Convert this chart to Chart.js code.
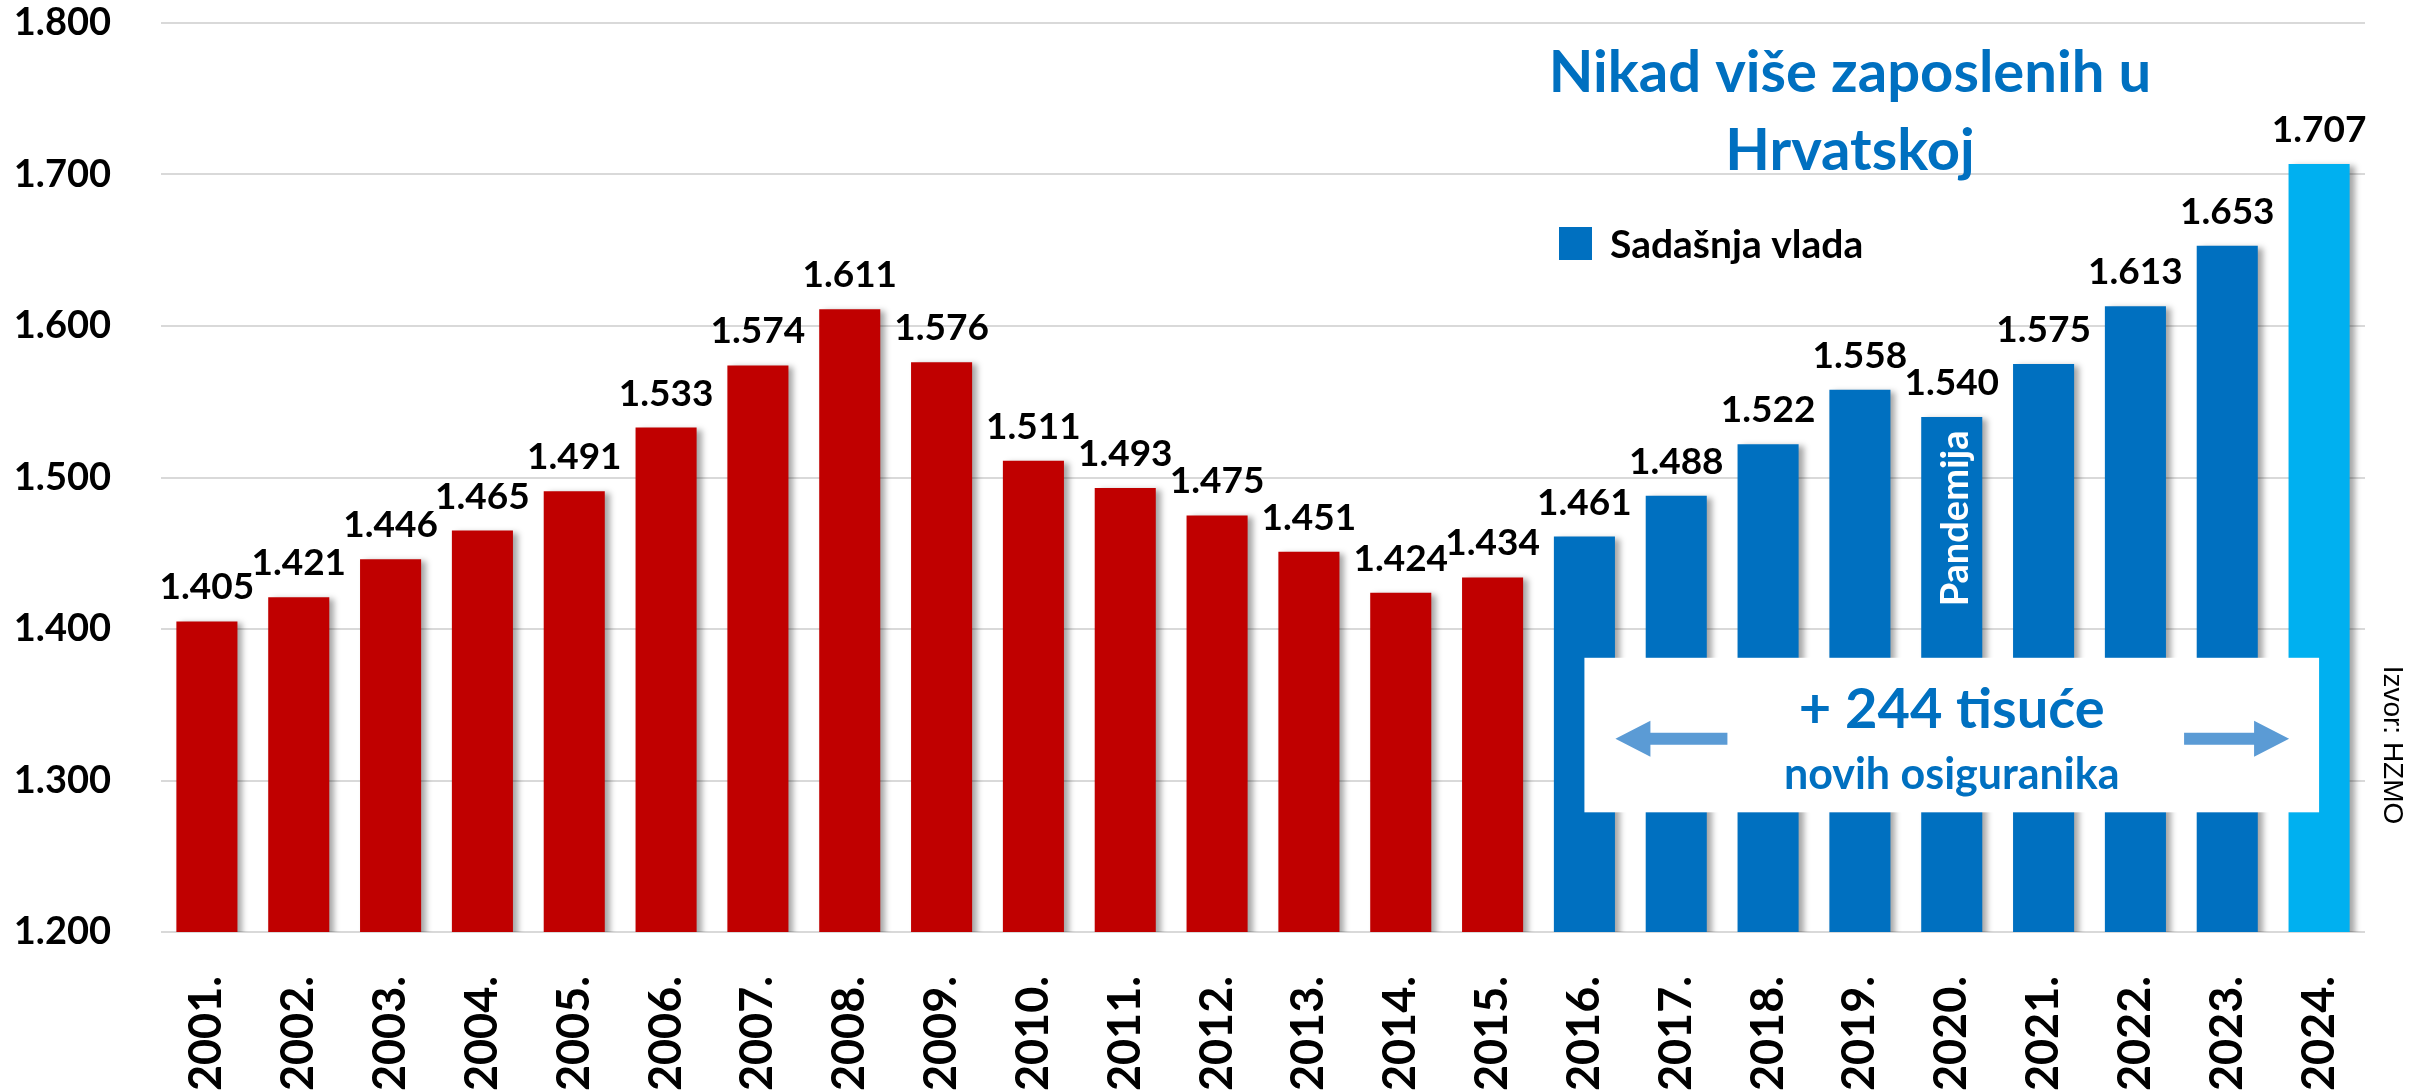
<!DOCTYPE html>
<html>
<head>
<meta charset="utf-8">
<script src="https://cdn.jsdelivr.net/npm/chart.js@4"></script>
<style>
  html, body { margin: 0; padding: 0; background: #fff; }
  #wrap { width: 2425px; height: 1090px; position: relative; }
</style>
</head>
<body>
<div id="wrap"><canvas id="chart"></canvas></div>
<script>
// Broj osiguranika (u tisućama), izvor HZMO
const years = ['2001.', '2002.', '2003.', '2004.', '2005.', '2006.', '2007.', '2008.',
  '2009.', '2010.', '2011.', '2012.', '2013.', '2014.', '2015.', '2016.', '2017.',
  '2018.', '2019.', '2020.', '2021.', '2022.', '2023.', '2024.'];
const insured = [1405, 1421, 1446, 1465, 1491, 1533, 1574, 1611, 1576, 1511, 1493,
  1475, 1451, 1424, 1434, 1461, 1488, 1522, 1558, 1540, 1575, 1613, 1653, 1707];
const yTicks = [1200, 1300, 1400, 1500, 1600, 1700, 1800];
const firstCurrentYear = '2016.';
const latestYear = '2024.';

const RED = '#C00000';
const BLUE = '#0070C0';
const LIGHT_BLUE = '#00B0F0';
const FONT = 'Lato, "Open Sans", sans-serif';

function fmt(v) {
  return String(v).replace(/\B(?=(\d{3})+(?!\d))/g, '.');
}

function barColor(i) {
  if (years[i] === latestYear) return LIGHT_BLUE;
  return i >= years.indexOf(firstCurrentYear) ? BLUE : RED;
}

// sjena ispod stupaca
const barShadow = {
  id: 'barShadow',
  beforeDatasetsDraw(chart) {
    const c = chart.ctx;
    c.save();
    c.shadowColor = 'rgba(0,0,0,0.35)';
    c.shadowBlur = 6;
    c.shadowOffsetX = 5;
    c.shadowOffsetY = 2;
  },
  afterDatasetsDraw(chart) {
    chart.ctx.restore();
  }
};

function arrow(ctx, tail, tip, cy) {
  const dir = Math.sign(tip - tail);
  const head = 35;
  ctx.beginPath();
  ctx.moveTo(tail, cy - 6);
  ctx.lineTo(tip - dir * head, cy - 6);
  ctx.lineTo(tip - dir * head, cy - 18);
  ctx.lineTo(tip, cy);
  ctx.lineTo(tip - dir * head, cy + 18);
  ctx.lineTo(tip - dir * head, cy + 6);
  ctx.lineTo(tail, cy + 6);
  ctx.closePath();
  ctx.fill();
}

const extras = {
  id: 'extras',
  afterDraw(chart) {
    const { ctx, scales: { x, y } } = chart;
    const meta = chart.getDatasetMeta(0);
    ctx.save();

    // vrijednosti iznad stupaca
    ctx.font = 'bold 37px ' + FONT;
    ctx.fillStyle = '#000';
    ctx.textAlign = 'center';
    ctx.textBaseline = 'alphabetic';
    meta.data.forEach((bar, i) => ctx.fillText(fmt(insured[i]), bar.x, bar.y - 22));

    // Pandemija
    const p = meta.data[years.indexOf('2020.')];
    ctx.save();
    ctx.translate(p.x + 4, y.getPixelForValue(1473));
    ctx.rotate(-Math.PI / 2);
    ctx.font = 'bold 38px ' + FONT;
    ctx.fillStyle = '#fff';
    ctx.textBaseline = 'middle';
    ctx.fillText('Pandemija', 0, 0);
    ctx.restore();

    // okvir + 244 tisuće
    const left = x.getPixelForValue(years.indexOf(firstCurrentYear));
    const right = x.getPixelForValue(years.indexOf(latestYear));
    const top = y.getPixelForValue(1381);
    const bottom = y.getPixelForValue(1279);
    ctx.fillStyle = '#fff';
    ctx.fillRect(left, top, right - left, bottom - top);
    const cx = (left + right) / 2;
    ctx.fillStyle = BLUE;
    ctx.textAlign = 'center';
    ctx.font = 'bold 56px ' + FONT;
    ctx.fillText('+ 244 tisuće', cx, top + 70);
    ctx.font = 'bold 43px ' + FONT;
    ctx.fillText('novih osiguranika', cx, top + 131);
    ctx.fillStyle = '#5B9BD5';
    arrow(ctx, left + 143, left + 31, top + 81);
    arrow(ctx, right - 135, right - 30, top + 81);

    // naslov
    ctx.fillStyle = BLUE;
    ctx.font = 'bold 58px ' + FONT;
    ctx.fillText('Nikad više zaposlenih u', 1850, 92);
    ctx.fillText('Hrvatskoj', 1850, 170);

    // legenda
    ctx.fillRect(1559, 227, 33, 33);
    ctx.fillStyle = '#000';
    ctx.textAlign = 'left';
    ctx.font = 'bold 39px ' + FONT;
    ctx.fillText('Sadašnja vlada', 1610, 258);

    // izvor
    ctx.translate(2392, 745);
    ctx.rotate(Math.PI / 2);
    ctx.textAlign = 'center';
    ctx.textBaseline = 'middle';
    ctx.font = '28px "Liberation Sans", Arial, sans-serif';
    ctx.fillText('Izvor: HZMO', 0, 0);

    ctx.restore();
  }
};

new Chart(document.getElementById('chart'), {
  type: 'bar',
  data: {
    labels: years,
    datasets: [{
      label: 'Osiguranici',
      data: insured,
      backgroundColor: insured.map((v, i) => barColor(i)),
      barPercentage: 0.665,
      categoryPercentage: 1
    }]
  },
  options: {
    responsive: true,
    maintainAspectRatio: false,
    animation: false,
    events: [],
    layout: { padding: { top: 23, right: 60, left: 0, bottom: 0 } },
    plugins: {
      legend: { display: false },
      tooltip: { enabled: false }
    },
    scales: {
      x: {
        grid: { display: false },
        border: { display: false },
        ticks: {
          color: '#000',
          font: { family: FONT, size: 45, weight: 'bold' },
          maxRotation: 90,
          minRotation: 90,
          autoSkip: false,
          padding: 36
        },
        afterFit(scale) { scale.height = 158; }
      },
      y: {
        min: 1200,
        max: 1800,
        border: { display: false },
        grid: { color: '#D9D9D9', lineWidth: 2, drawTicks: true, tickLength: 50, tickColor: 'rgba(0,0,0,0)' },
        afterBuildTicks(scale) { scale.ticks = yTicks.map(v => ({ value: v })); },
        ticks: {
          color: '#000',
          font: { family: FONT, size: 38, weight: 'bold' },
          padding: 0,
          callback: v => fmt(v)
        },
        afterFit(scale) { scale.width = 161; }
      }
    }
  },
  plugins: [barShadow, extras]
});
</script>
</body>
</html>
